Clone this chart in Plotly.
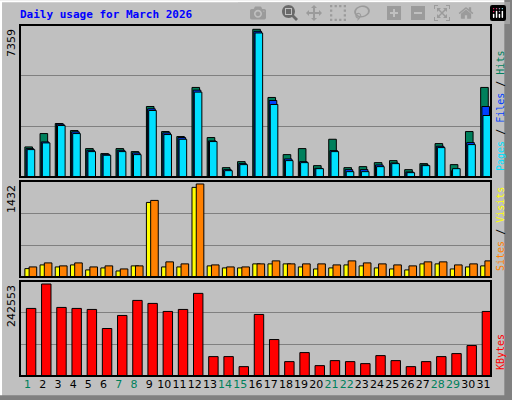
import plotly.graph_objects as go

days = list(range(1, 32))
hits = [1498, 2164, 2664, 2314, 1415, 1165, 1415, 1265, 3513, 2264, 2015, 4462, 1965, 466, 766, 7359,
        3963, 1115, 1415, 566, 1881, 466, 516, 716, 816, 366, 666, 1665, 616, 2264, 4462]
files = [1415, 1748, 2630, 2248, 1332, 1132, 1332, 1199, 3397, 2198, 1965, 4329, 1798, 366, 666, 7259,
         3813, 899, 766, 433, 1315, 366, 366, 599, 699, 250, 599, 1532, 316, 1715, 3513]
pages = [1365, 1698, 2564, 2164, 1265, 1082, 1265, 1115, 3313, 2115, 1881, 4229, 1765, 316, 616, 7176,
         3613, 816, 716, 416, 1265, 266, 266, 516, 666, 216, 566, 1465, 416, 1615, 3064]
sites = [129, 186, 155, 186, 109, 140, 93, 171, 1148, 155, 155, 1380, 171, 140, 140, 202,
         202, 202, 155, 124, 140, 186, 171, 140, 124, 109, 202, 202, 124, 155, 171]
visits = [155, 217, 171, 217, 155, 171, 124, 171, 1179, 233, 202, 1432, 186, 155, 155, 202,
          248, 202, 202, 202, 186, 248, 217, 202, 186, 171, 233, 233, 186, 202, 248]
kbytes = [178164, 242553, 180800, 178164, 175518, 125244, 159636, 199332, 191394, 170226, 175518, 217854,
          51156, 51156, 24696, 162288, 96138, 37926, 61740, 27342, 40572, 37926, 32634, 53802, 40572,
          24696, 37926, 51156, 59094, 80262, 170226]
weekend = [1, 7, 8, 14, 15, 21, 22, 28, 29]

ticktext = [f"<span style='color:#00805C'>{d}</span>" if d in weekend else str(d) for d in days]

fig = go.Figure()
line = dict(color="black", width=1)
fig.add_bar(x=days, y=hits, offset=-0.18, width=0.5, marker=dict(color="#00805C", line=line), xaxis="x", yaxis="y")
fig.add_bar(x=days, y=files, offset=-0.1, width=0.5, marker=dict(color="#0040FF", line=line), xaxis="x", yaxis="y")
fig.add_bar(x=days, y=pages, offset=-0.03, width=0.5, marker=dict(color="#00E0FF", line=line), xaxis="x", yaxis="y")
fig.add_bar(x=days, y=sites, offset=-0.18, width=0.5, marker=dict(color="#FFFF00", line=line), xaxis="x2", yaxis="y2")
fig.add_bar(x=days, y=visits, offset=0.1, width=0.5, marker=dict(color="#FF8000", line=line), xaxis="x2", yaxis="y2")
fig.add_bar(x=days, y=kbytes, offset=-0.08, width=0.62, marker=dict(color="#FF0000", line=line), xaxis="x3", yaxis="y3")

xd = [20 / 512, 491 / 512]
doms = [(0.5575, 0.9375), (0.3075, 0.5475), (0.06, 0.2975)]
ranges = [7573, 1478, 250500]
maxes = [max(hits), max(visits), max(kbytes)]

lay = dict(barmode="overlay", showlegend=False, width=512, height=400,
           margin=dict(l=0, r=0, t=0, b=0), paper_bgcolor="#C0C0C0", plot_bgcolor="#C0C0C0",
           font=dict(family="DejaVu Sans", size=11, color="black"))
for i in range(3):
    s = "" if i == 0 else str(i + 1)
    lay["xaxis" + s] = dict(domain=xd, range=[0.5, 31.5], anchor="y" + s, showgrid=False, zeroline=False,
                            showticklabels=(i == 2), tickvals=days, ticktext=ticktext, ticks="",
                            tickangle=0, tickfont=dict(size=11))
    lay["yaxis" + s] = dict(domain=list(doms[i]), range=[0, ranges[i]], anchor="x" + s, dtick=ranges[i] / 3,
                            gridcolor="#808080", gridwidth=1, showticklabels=False, zeroline=False)
fig.update_layout(**lay)

shapes = [dict(type="rect", xref="paper", yref="paper", x0=0.002, x1=0.998, y0=0.003, y1=0.997,
               line=dict(color="white", width=2)),
          dict(type="rect", xref="paper", yref="paper", x0=0.985, x1=1.0, y0=0.0, y1=1.0,
               fillcolor="#808080", line=dict(width=0)),
          dict(type="rect", xref="paper", yref="paper", x0=0.0, x1=1.0, y0=0.0, y1=0.012,
               fillcolor="#808080", line=dict(width=0))]
for y0, y1 in doms:
    shapes.append(dict(type="rect", xref="paper", yref="paper", x0=xd[0], x1=xd[1], y0=y0, y1=y1,
                       line=dict(color="black", width=2)))
fig.update_layout(shapes=shapes)

ann = [dict(text="<b>Daily usage for March 2026</b>", x=18 / 512, y=1 - 15 / 400, xref="paper", yref="paper",
            xanchor="left", yanchor="middle", showarrow=False,
            font=dict(family="DejaVu Sans Mono", size=11, color="#0000FF"))]
for i, m in enumerate(maxes):
    ann.append(dict(text=str(m), x=11 / 512, y=doms[i][1] - 0.005, xref="paper", yref="paper", textangle=-90,
                    xanchor="center", yanchor="top", showarrow=False, font=dict(size=11)))
right = [
    "<span style='color:#00E0FF'>Pages</span> / <span style='color:#0040FF'>Files</span> / <span style='color:#00805C'>Hits</span>",
    "<span style='color:#FF8000'>Sites</span> / <span style='color:#FFFF00'>Visits</span>",
    "<span style='color:#FF0000'>KBytes</span>",
]
for i, t in enumerate(right):
    ann.append(dict(text=t, x=500 / 512, y=doms[i][0] + 0.01, xref="paper", yref="paper", textangle=-90,
                    xanchor="center", yanchor="bottom", showarrow=False,
                    font=dict(family="DejaVu Sans Mono", size=10, color="black")))
fig.update_layout(annotations=ann)

fig.write_html("out.html", post_script="document.body.style.margin='0';")
